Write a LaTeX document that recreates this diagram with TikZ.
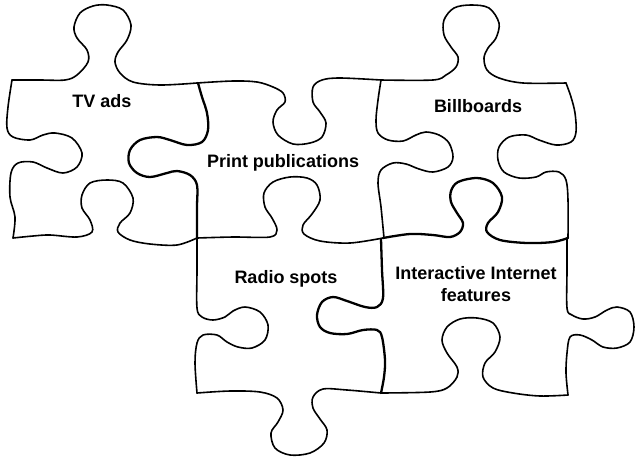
\documentclass[tikz,border=0pt]{standalone}
\usepackage{fontspec}
\setmainfont{Liberation Sans}
\begin{document}
\begin{tikzpicture}[x=1pt,y=-1pt,
  outline/.style={line width=1.6pt,line join=round,line cap=round},
  boldoutline/.style={line width=2.3pt,line join=round,line cap=round},
  piecetext/.style={font=\fontsize{18}{22}\selectfont\bfseries,inner sep=0pt,align=center}]
\useasboundingbox (0,0) rectangle (636,459);

% top edge of the "TV ads" piece
\draw[outline] plot[smooth,tension=0.55] coordinates {(12,80) (40,80) (65,80) (77,75) (88,62) (87,50) (77,38) (74,27) (80,13) (93,6) (107,5) (123,10) (131,25) (127,40) (118,52) (115,62) (120,73) (133,82) (160,85) (197,83)};
% left edge of "TV ads"
\draw[outline] plot[smooth,tension=0.55] coordinates {(12,80) (8,107) (7,128) (13,137) (30,140) (43,135) (55,133) (72,138) (82,153) (77,167) (63,173) (47,168) (33,162) (18,163) (11,173) (10,197) (15,217) (13,238)};
% bottom edge of "TV ads"
\draw[outline] plot[smooth,tension=0.55] coordinates {(13,238) (33,236) (50,235) (77,237) (92,232) (90,220) (82,208) (82,195) (90,183) (107,180) (123,183) (133,198) (130,213) (120,223) (118,232) (130,240) (150,244) (177,245) (197,238)};
% seam between "TV ads" and "Print publications"
\draw[boldoutline] plot[smooth,tension=0.55] coordinates {(198,83) (202,97) (207,113) (208,130) (202,142) (187,145) (170,140) (157,137) (140,140) (130,150) (129,163) (137,173) (150,177) (167,173) (177,171) (190,175) (197,185) (197,207) (197,238)};

% top edge of "Print publications"
\draw[outline] plot[smooth,tension=0.55] coordinates {(197,83) (233,81) (257,82) (273,87) (283,93) (285,102) (277,110) (273,122) (278,135) (293,144) (310,143) (322,137) (326,123) (320,112) (313,102) (313,87) (322,80) (340,78) (381,80)};
% bottom edge of "Print publications" / top of "Radio spots"
\draw[outline] plot[smooth,tension=0.55] coordinates {(197,238) (233,237) (270,237) (277,230) (272,218) (265,207) (264,193) (273,182) (290,177) (307,178) (317,185) (320,200) (312,214) (303,225) (304,234) (320,241) (350,243) (383,238)};
% seam between "Print publications" and "Billboards"
\draw[outline] plot[smooth,tension=0.55] coordinates {(381,80) (378,100) (376,120) (378,133) (388,140) (403,141) (416,135) (426,132) (439,135) (449,143) (453,157) (448,167) (433,172) (419,169) (406,164) (393,163) (381,170) (378,183) (381,207) (384,238)};

% top edge of "Billboards"
\draw[outline] plot[smooth,tension=0.55] coordinates {(381,80) (433,80) (446,75) (456,67) (458,57) (451,47) (444,35) (444,20) (454,8) (471,5) (489,8) (499,23) (496,38) (488,48) (484,58) (487,70) (499,78) (523,83) (566,83)};
% right edge of "Billboards"
\draw[outline] plot[smooth,tension=0.55] coordinates {(566,83) (571,97) (575,113) (576,132) (571,142) (556,145) (539,140) (526,135) (509,137) (499,147) (498,160) (504,172) (519,178) (536,177) (546,172) (559,172) (566,180) (568,200) (568,238)};
% bottom edge of "Billboards" / top of "Interactive Internet features"
\draw[boldoutline] plot[smooth,tension=0.55] coordinates {(383,238) (410,234) (433,235) (450,237) (460,232) (463,223) (457,213) (451,202) (451,191) (458,182) (477,178) (493,183) (502,197) (498,212) (488,223) (487,232) (500,240) (527,243) (553,242) (568,238)};

% left edge of "Radio spots"
\draw[outline] plot[smooth,tension=0.55] coordinates {(197,238) (197,270) (197,308) (202,317) (213,320) (225,317) (233,311) (245,307) (260,312) (268,325) (265,340) (252,348) (238,347) (227,342) (217,335) (203,335) (197,343) (195,363) (197,393)};
% bottom edge of "Radio spots"
\draw[outline] plot[smooth,tension=0.55] coordinates {(197,393) (230,391) (260,392) (277,398) (283,410) (278,422) (271,433) (275,448) (290,455) (310,453) (324,443) (327,430) (320,419) (313,408) (313,397) (323,389) (347,390) (381,393)};
% seam between "Radio spots" and "Interactive Internet features"
\draw[boldoutline] plot[smooth,tension=0.55] coordinates {(381,239) (382,270) (383,298) (377,307) (365,307) (347,301) (333,297) (322,302) (317,315) (320,327) (330,333) (347,334) (363,330) (377,330) (382,337) (385,360) (384,377) (381,393)};

% right edge of "Interactive Internet features"
\draw[outline] plot[smooth,tension=0.55] coordinates {(567,238) (567,270) (567,308) (572,315) (583,319) (595,317) (607,310) (617,307) (630,312) (634,327) (630,342) (617,348) (603,347) (592,340) (580,335) (570,337) (567,353) (566,373) (568,395)};
% bottom edge of "Interactive Internet features"
\draw[outline] plot[smooth,tension=0.55] coordinates {(381,393) (430,392) (447,388) (457,377) (457,367) (447,353) (442,340) (447,327) (460,319) (477,318) (493,323) (500,337) (495,352) (485,363) (483,377) (493,388) (513,393) (540,396) (568,395)};

% piece captions
\node[piecetext,anchor=base] (tv) at (102,107) {TV ads};
\node[piecetext,anchor=base] (print) at (283,167) {Print publications};
\node[piecetext,anchor=base] (bill) at (478,112) {Billboards};
\node[piecetext,anchor=base] (radio) at (286,283) {Radio spots};
\node[piecetext] (inter) at (476,284) {Interactive Internet\\features};
\end{tikzpicture}
\end{document}
